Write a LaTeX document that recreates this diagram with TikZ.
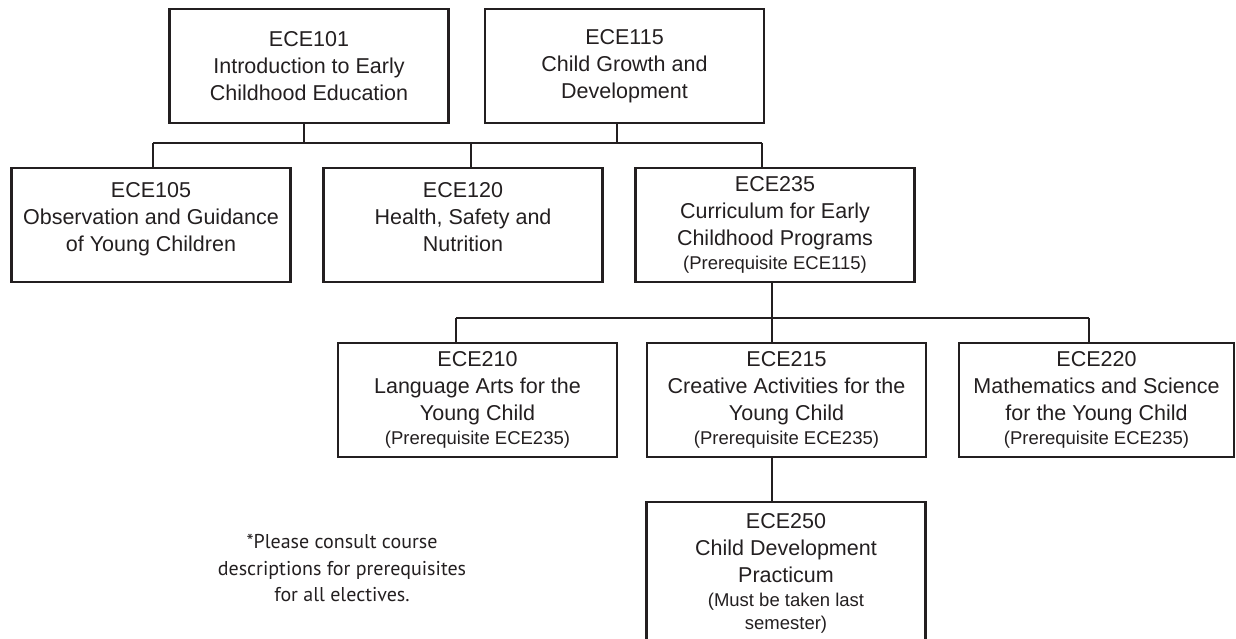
\documentclass[tikz,border=0pt]{standalone}
\usepackage{fontspec}
\setmainfont{Liberation Sans}
\newfontfamily\notefont{PT Sans}
\definecolor{ink}{HTML}{231F20}
\newcommand{\prq}{\fontsize{18.5}{22}\selectfont}

\begin{document}
\begin{tikzpicture}[x=1pt,y=1pt,
        course/.style={draw=ink,text=ink,line width=2.5pt,align=center,inner sep=0pt,
            minimum width=279pt,minimum height=114pt,
            font=\fontsize{21.5}{27}\selectfont},
        link/.style={draw=ink,line width=2.4pt}]
        \useasboundingbox (0,0) rectangle (1236,639);

        % first semester
        \node[course] (ece101) at (309,573) {ECE101\\Introduction to Early\\Childhood Education};
        \node[course] (ece115) at (624.5,573) {ECE115\\Child Growth and\\Development};

        % second row
        \node[course] (ece105) at (151,414) {ECE105\\Observation and Guidance\\of Young Children\\[-12pt]\mbox{}};
        \node[course] (ece120) at (463,414) {ECE120\\Health, Safety and\\Nutrition\\[-11pt]\mbox{}};
        \node[course] (ece235) at (775,414) {ECE235\\Curriculum for Early\\Childhood Programs\\[-3pt]{\prq (Prerequisite ECE115)}};

        % electives
        \node[course] (ece210) at (477.5,239) {ECE210\\Language Arts for the\\Young Child\\[-3pt]{\prq (Prerequisite ECE235)}};
        \node[course] (ece215) at (786.5,239) {ECE215\\Creative Activities for the\\Young Child\\[-3pt]{\prq (Prerequisite ECE235)}};
        \node[course,minimum width=275pt] (ece220) at (1096.5,239) {ECE220\\Mathematics and Science\\for the Young Child\\[-3pt]{\prq (Prerequisite ECE235)}};

        % last semester
        \node[course,minimum height=142pt] (ece250) at (786,66) {ECE250\\Child Development\\Practicum\\[-3pt]{\prq (Must be taken last}\\[-4pt]{\prq semester)}};

        \node[align=center,text=ink,font=\notefont\fontsize{20}{26.5}\selectfont] (note) at (342,71)
            {*Please consult course\\descriptions for prerequisites\\for all electives.};

        % upper connectors
        \coordinate (bus1w) at (153,496);
        \coordinate (bus1e) at (762,496);
        \draw[link] (bus1w) -- (bus1e);
        \draw[link] ([xshift=-5pt]ece101.south) -- ([xshift=-5pt]ece101.south |- bus1w);
        \draw[link] ([xshift=-7.5pt]ece115.south) -- ([xshift=-7.5pt]ece115.south |- bus1w);
        \draw[link] (bus1w) -- (bus1w |- ece105.north);
        \draw[link] ([xshift=8pt]ece120.north) -- ([xshift=8pt]ece120.north |- bus1w);
        \draw[link] (bus1e) -- (bus1e |- ece235.north);

        % lower connectors
        \coordinate (bus2w) at (456,321);
        \coordinate (bus2e) at (1089,321);
        \coordinate (mid) at (772,321);
        \draw[link] (bus2w) -- (bus2e);
        \draw[link] (bus2w) -- (bus2w |- ece210.north);
        \draw[link] (bus2e) -- (bus2e |- ece220.north);
        \draw[link] (mid |- ece235.south) -- (mid |- ece215.north);
        \draw[link] (mid |- ece215.south) -- (mid |- ece250.north);
\end{tikzpicture}
\end{document}
